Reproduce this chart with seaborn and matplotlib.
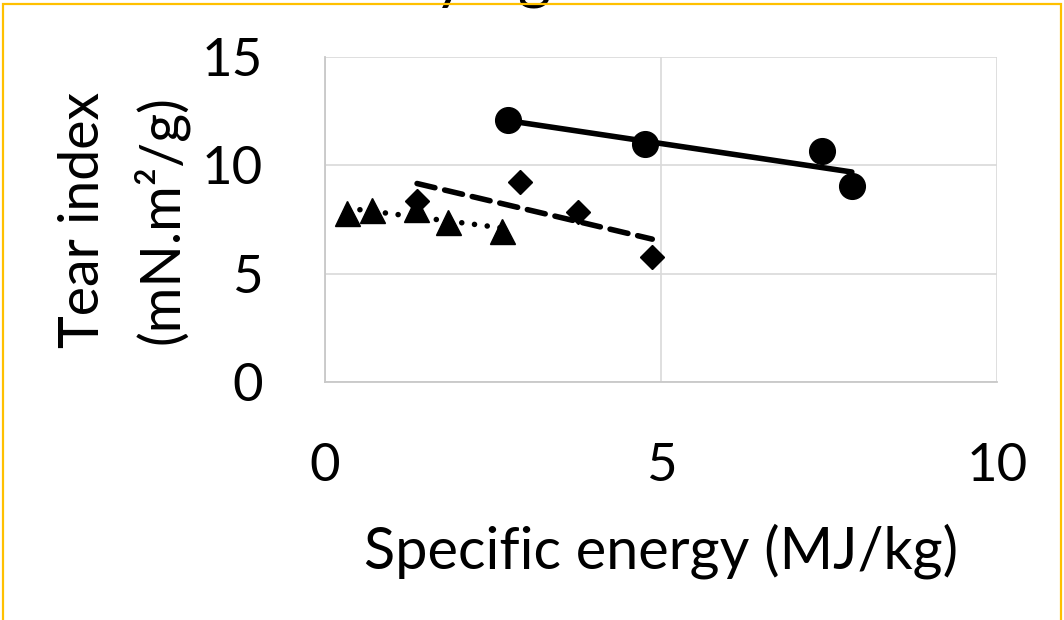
import matplotlib
matplotlib.use("Agg")
import matplotlib.pyplot as plt
import seaborn as sns
import numpy as np
from matplotlib.patches import Rectangle

# ---- data ----
circle_x = [2.72, 4.76, 7.40, 7.84]
circle_y = [12.07, 11.0, 10.66, 9.04]

diamond_x = [1.37, 2.90, 3.76, 4.87]
diamond_y = [8.35, 9.23, 7.85, 5.77]

triangle_x = [0.33, 0.70, 1.36, 1.83, 2.63]
triangle_y = [7.79, 7.95, 7.98, 7.37, 6.98]

x_ticks = [0, 5, 10]
y_ticks = [0, 5, 10, 15]

sns.set_theme(style="white")
plt.rcParams['font.family'] = ['Lato', 'DejaVu Sans']

fig = plt.figure(figsize=(10.64, 6.2), dpi=100)
ax = fig.add_axes([325/1064, 1 - 382/620, (997-325)/1064, (382-57)/620])

LW = 4.0
# markers
ax.plot(circle_x, circle_y, linestyle='none', marker='o', ms=18.5, color='black', zorder=3)
ax.plot(diamond_x, diamond_y, linestyle='none', marker='D', ms=12.5, color='black', zorder=3)
ax.plot(triangle_x, triangle_y, linestyle='none', marker='^', ms=18, color='black', zorder=3)

# linear trendlines
sns.regplot(x=circle_x, y=circle_y, ax=ax, ci=None, scatter=False, truncate=True,
            line_kws=dict(color='black', lw=LW, solid_capstyle='round', zorder=4))
sns.regplot(x=diamond_x, y=diamond_y, ax=ax, ci=None, scatter=False, truncate=True,
            line_kws=dict(color='black', lw=LW, linestyle=(0, (3.3, 1.8)),
                          dash_capstyle='round', zorder=4))
sns.regplot(x=triangle_x, y=triangle_y, ax=ax, ci=None, scatter=False, truncate=True,
            line_kws=dict(color='black', lw=LW, linestyle=(0, (0.01, 2.3)),
                          dash_capstyle='round', zorder=4))

ax.set_xlim(0, 10)
ax.set_ylim(0, 15)
ax.set_xticks(x_ticks)
ax.set_yticks(y_ticks)
ax.grid(True, color='#d9d9d9', lw=1.2)
ax.set_axisbelow(True)
for side in ['top', 'right']:
    ax.spines[side].set_visible(False)
for side in ['left', 'bottom']:
    ax.spines[side].set_color('#c8c8c8')
    ax.spines[side].set_linewidth(1.3)
ax.tick_params(axis='both', length=0, labelsize=38, colors='black')
ax.tick_params(axis='y', pad=45)
ax.tick_params(axis='x', pad=44)

ax.set_xlabel("Specific energy (MJ/kg)", fontsize=41.5, color='black', labelpad=24)
ax.set_ylabel("Tear index\n(mN.m²/g)", fontsize=40, color='black', linespacing=1.5)
ax.yaxis.set_label_coords(-0.203, 0.5)

# clipped chart title at the top edge
fig.text(551/1064, 1 + 4/620, "varying", ha='right', va='baseline', fontsize=46, color='black')

# yellow chart border
fig.patches.append(Rectangle((3/1064, -0.1), 1058/1064, 1.1 - 4/620, transform=fig.transFigure,
                             fill=False, edgecolor='#FFC000', lw=1.6, zorder=10))

fig.savefig("out.png", dpi=100)
